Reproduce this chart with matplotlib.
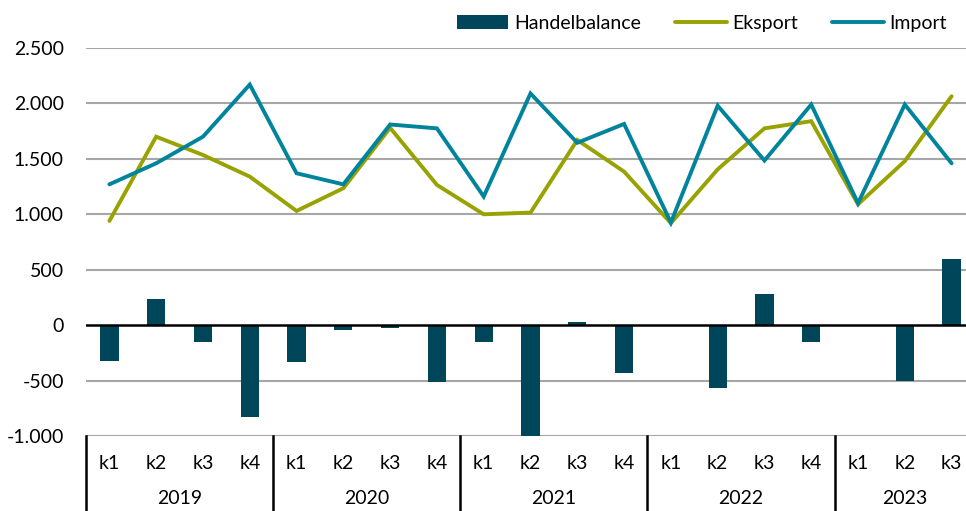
import matplotlib
matplotlib.use("Agg")
import matplotlib.pyplot as plt
import matplotlib.transforms as mtransforms
from matplotlib.ticker import FuncFormatter

plt.rcParams["font.family"] = ["Lato", "DejaVu Sans"]

years = ["2019", "2020", "2021", "2022", "2023"]
quarters = ["k1", "k2", "k3", "k4",
            "k1", "k2", "k3", "k4",
            "k1", "k2", "k3", "k4",
            "k1", "k2", "k3", "k4",
            "k1", "k2", "k3"]
handelbalance = [-325, 240, -155, -825,
                 -330, -40, -25, -510,
                 -155, -1075, 25, -430,
                 -5, -570, 285, -155,
                 -5, -505, 600]
eksport = [940, 1700, 1535, 1340,
           1030, 1235, 1780, 1265,
           1000, 1015, 1670, 1385,
           920, 1405, 1775, 1840,
           1090, 1480, 2065]
importv = [1270, 1460, 1700, 2170,
           1370, 1270, 1810, 1775,
           1160, 2090, 1645, 1815,
           925, 1980, 1485, 1990,
           1100, 1990, 1460]

C_BAR = "#00465A"
C_EKS = "#98A200"
C_IMP = "#00849C"


def thousands(v, pos):
    return f"{int(v):,}".replace(",", ".")


W, H = 966, 511
fig = plt.figure(figsize=(W / 100, H / 100), dpi=100)
left, right, top, bottom = 86, 975, 48, 436
ax = fig.add_axes([left / W, 1 - bottom / H, (right - left) / W, (bottom - top) / H])

x = list(range(len(quarters)))

ax.set_ylim(-1000, 2500)
ax.set_xlim(-0.5, len(quarters) - 0.5)
yticks = list(range(-1000, 2501, 500))
ax.set_yticks(yticks)
ax.yaxis.set_major_formatter(FuncFormatter(thousands))
for y in yticks:
    if y != 0:
        ax.axhline(y, color="#A6A6A6", lw=1.5, zorder=0)
ax.axhline(0, color="black", lw=1.8, zorder=3)

ax.bar(x, handelbalance, width=0.39, color=C_BAR, label="Handelbalance", zorder=2)
ax.plot(x, eksport, color=C_EKS, lw=2.8, label="Eksport", zorder=4,
        solid_capstyle="round", solid_joinstyle="miter")
ax.plot(x, importv, color=C_IMP, lw=2.8, label="Import", zorder=5,
        solid_capstyle="round", solid_joinstyle="miter")

for s in ax.spines.values():
    s.set_visible(False)
ax.tick_params(axis="y", length=0, labelsize=14, pad=16)
ax.tick_params(axis="x", length=0, labelbottom=False)

# category axis (quarters + years)
trans = mtransforms.blended_transform_factory(ax.transData, ax.transAxes)
for i, q in enumerate(quarters):
    ax.text(i, -0.072, q, transform=trans, ha="center", va="center",
            fontsize=14, clip_on=False)
n_year = [4, 4, 4, 4, 3]
start = 0
for yr, n in zip(years, n_year):
    ax.text(start + (n - 1) / 2, -0.16, yr, transform=trans, ha="center",
            va="center", fontsize=14, clip_on=False)
    ax.plot([start - 0.5, start - 0.5], [0, -0.3], transform=trans,
            color="black", lw=1.8, clip_on=False)
    start += n

handles, labels = ax.get_legend_handles_labels()
order = [2, 0, 1]
leg = fig.legend([handles[i] for i in order], [labels[i] for i in order],
                 loc="center right", bbox_to_anchor=(955 / W, 1 - 23 / H),
                 ncol=3, frameon=False, fontsize=14, handlelength=2.65,
                 handletextpad=0.3, columnspacing=1.75, borderaxespad=0)

fig.savefig("out.png", dpi=100)
